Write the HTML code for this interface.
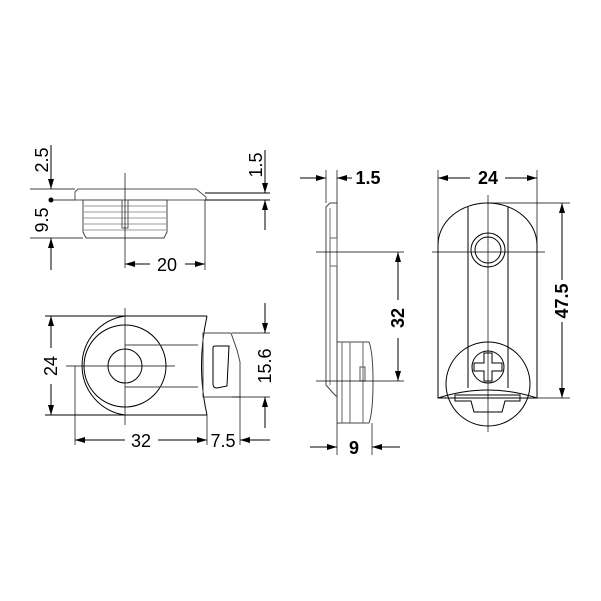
<!DOCTYPE html>
<html><head><style>body{margin:0;background:#fff}svg{display:block}</style></head><body>
<svg width="601" height="601" viewBox="0 0 601 601" xmlns="http://www.w3.org/2000/svg" font-family="Liberation Sans, sans-serif">
<defs>
<marker id="a" viewBox="0 0 10 6" refX="10" refY="3" markerWidth="10" markerHeight="6" orient="auto-start-reverse" markerUnits="userSpaceOnUse"><path d="M0,0L10,3L0,6z" fill="#000"/></marker>
</defs>
<g fill="none" stroke="#000" stroke-width="1">
<!-- top-left view -->
<path d="M78,189H196L206,197V200H75V192Z" stroke="#555"/>
<line x1="205" y1="193" x2="270" y2="193"/><line x1="205" y1="200" x2="270" y2="200"/>
<path d="M83,200H167V232L164,238H86L83,232Z" stroke="#444"/>
<g stroke="#777" stroke-width="0.8"><line x1="84" y1="206" x2="166" y2="206"/><line x1="84" y1="212" x2="166" y2="212"/><line x1="84" y1="218" x2="166" y2="218"/><line x1="84" y1="224" x2="166" y2="224"/><line x1="84" y1="230" x2="166" y2="230"/></g>
<rect x="122" y="200" width="6" height="28" stroke="#555"/>
<line x1="125" y1="173" x2="125" y2="268" stroke-width="0.7"/>
<line x1="30" y1="189" x2="75" y2="189" stroke-width="0.7"/>
<line x1="50" y1="200" x2="75" y2="200" stroke-width="0.7"/>
<line x1="30" y1="238" x2="83" y2="238" stroke-width="0.7"/>
<line x1="51" y1="145" x2="51" y2="189" marker-end="url(#a)"/>
<line x1="51" y1="270" x2="51" y2="238" marker-end="url(#a)"/>
<line x1="265" y1="150" x2="265" y2="193" marker-end="url(#a)"/>
<line x1="265" y1="230" x2="265" y2="200" marker-end="url(#a)"/>
<line x1="205" y1="200" x2="205" y2="270" stroke-width="0.7"/>
<line x1="125" y1="264" x2="150" y2="264" marker-start="url(#a)"/>
<line x1="185" y1="264" x2="205" y2="264" marker-end="url(#a)"/>
<!-- bottom-left view -->
<line x1="45" y1="316" x2="207" y2="316"/><line x1="45" y1="415" x2="207" y2="415"/>
<path d="M125,316A50,50 0 0 0 125,415"/>
<circle cx="125" cy="366" r="41"/>
<circle cx="125" cy="366" r="17"/>
<line x1="125" y1="345" x2="198" y2="345" stroke="#444"/><line x1="125" y1="387" x2="198" y2="387" stroke="#444"/>
<path d="M207,316Q196,366 207,415"/>
<path d="M203,333H231L237,350L240,362V397H203Z" stroke="#444"/>
<path d="M215,346H229L227,386L217,388Q213,388 213,384V348Q213,346 215,346Z"/>
<line x1="66" y1="366" x2="175" y2="366" stroke-width="0.7"/>
<line x1="125" y1="308" x2="125" y2="425" stroke-width="0.7"/>
<line x1="75" y1="366" x2="75" y2="445" stroke-width="0.7"/>
<line x1="207" y1="415" x2="207" y2="445" stroke-width="0.7"/>
<line x1="240" y1="397" x2="240" y2="445" stroke-width="0.7"/>
<line x1="232" y1="333" x2="270" y2="333" stroke-width="0.7"/>
<line x1="232" y1="397" x2="270" y2="397" stroke-width="0.7"/>
<line x1="51" y1="316" x2="51" y2="348" marker-start="url(#a)"/>
<line x1="51" y1="384" x2="51" y2="415" marker-end="url(#a)"/>
<line x1="265" y1="303" x2="265" y2="333" marker-end="url(#a)"/>
<line x1="265" y1="428" x2="265" y2="397" marker-end="url(#a)"/>
<line x1="75" y1="440" x2="125" y2="440" marker-start="url(#a)"/>
<line x1="158" y1="440" x2="207" y2="440" marker-end="url(#a)"/>
<line x1="270" y1="440" x2="240" y2="440" marker-end="url(#a)"/>
<!-- side view -->
<path d="M330,203H337V397L333,393L326,385V207Z" stroke="#444"/>
<line x1="330" y1="208" x2="330" y2="385" stroke="#777"/>
<rect x="330" y="238" width="7" height="28" stroke="#666"/>
<path d="M337,342H369Q373,352 373,382Q373,412 369,423H337Z" stroke="#444"/>
<line x1="342" y1="342" x2="342" y2="423" stroke="#666"/><line x1="350" y1="342" x2="350" y2="423" stroke="#666"/><line x1="363" y1="342" x2="363" y2="423" stroke="#666"/>
<rect x="360" y="367" width="5" height="14" stroke="#555"/>
<line x1="316" y1="252" x2="404" y2="252" stroke-width="0.7"/>
<line x1="316" y1="381" x2="404" y2="381" stroke-width="0.7"/>
<line x1="326" y1="170" x2="326" y2="203" stroke-width="0.7"/><line x1="337" y1="170" x2="337" y2="203" stroke-width="0.7"/>
<line x1="300" y1="178" x2="326" y2="178" marker-end="url(#a)"/>
<line x1="352" y1="178" x2="337" y2="178" marker-end="url(#a)"/>
<line x1="398" y1="252" x2="398" y2="300" marker-start="url(#a)"/>
<line x1="398" y1="338" x2="398" y2="381" marker-end="url(#a)"/>
<line x1="337" y1="423" x2="337" y2="455" stroke-width="0.7"/><line x1="372" y1="423" x2="372" y2="455" stroke-width="0.7"/>
<line x1="310" y1="447" x2="337" y2="447" marker-end="url(#a)"/>
<line x1="400" y1="447" x2="372" y2="447" marker-end="url(#a)"/>
<!-- front view -->
<path d="M438,398V245A49.5,42 0 0 1 537,245V398Z"/>
<line x1="468" y1="207" x2="468" y2="388"/><line x1="508" y1="207" x2="508" y2="388"/>
<circle cx="488" cy="250" r="17"/><circle cx="488" cy="250" r="13"/>
<circle cx="488" cy="384" r="42"/>
<circle cx="488" cy="367" r="16"/>
<path d="M484,353h8v10h10v8h-10v10h-8v-10h-10v-8h10z"/>
<path d="M438,398Q488,382 537,398" />
<path d="M455,395H520V401H505L502,412H474L471,401H455Z"/>
<line x1="488" y1="195" x2="488" y2="432" stroke-width="0.7"/>
<line x1="432" y1="252" x2="545" y2="252" stroke-width="0.7"/>
<line x1="438" y1="170" x2="438" y2="245" stroke-width="0.7"/><line x1="537" y1="170" x2="537" y2="245" stroke-width="0.7"/>
<line x1="488" y1="203" x2="570" y2="203" stroke-width="0.7"/>
<line x1="537" y1="398" x2="570" y2="398" stroke-width="0.7"/>
<line x1="438" y1="178" x2="470" y2="178" marker-start="url(#a)"/>
<line x1="505" y1="178" x2="537" y2="178" marker-end="url(#a)"/>
<line x1="562" y1="203" x2="562" y2="280" marker-start="url(#a)"/>
<line x1="562" y1="322" x2="562" y2="398" marker-end="url(#a)"/>
</g>
<circle cx="51" cy="200" r="2.5" fill="#000"/>
<g font-size="18" fill="#000">
<text transform="translate(48,160) rotate(-90)" text-anchor="middle">2.5</text>
<text transform="translate(48,220) rotate(-90)" text-anchor="middle">9.5</text>
<text transform="translate(262,165) rotate(-90)" text-anchor="middle">1.5</text>
<text x="167" y="271" text-anchor="middle">20</text>
<text transform="translate(57,366) rotate(-90)" text-anchor="middle">24</text>
<text transform="translate(271,366) rotate(-90)" text-anchor="middle">15.6</text>
<text x="141" y="447" text-anchor="middle">32</text>
<text x="223" y="447" text-anchor="middle">7.5</text>
</g>
<g font-size="18" font-weight="bold" fill="#000">
<text x="368" y="184" text-anchor="middle">1.5</text>
<text transform="translate(404,318) rotate(-90)" text-anchor="middle">32</text>
<text x="354" y="454" text-anchor="middle">9</text>
<text x="488" y="184" text-anchor="middle">24</text>
<text transform="translate(568,301) rotate(-90)" text-anchor="middle">47.5</text>
</g>
</svg>
</body></html>
